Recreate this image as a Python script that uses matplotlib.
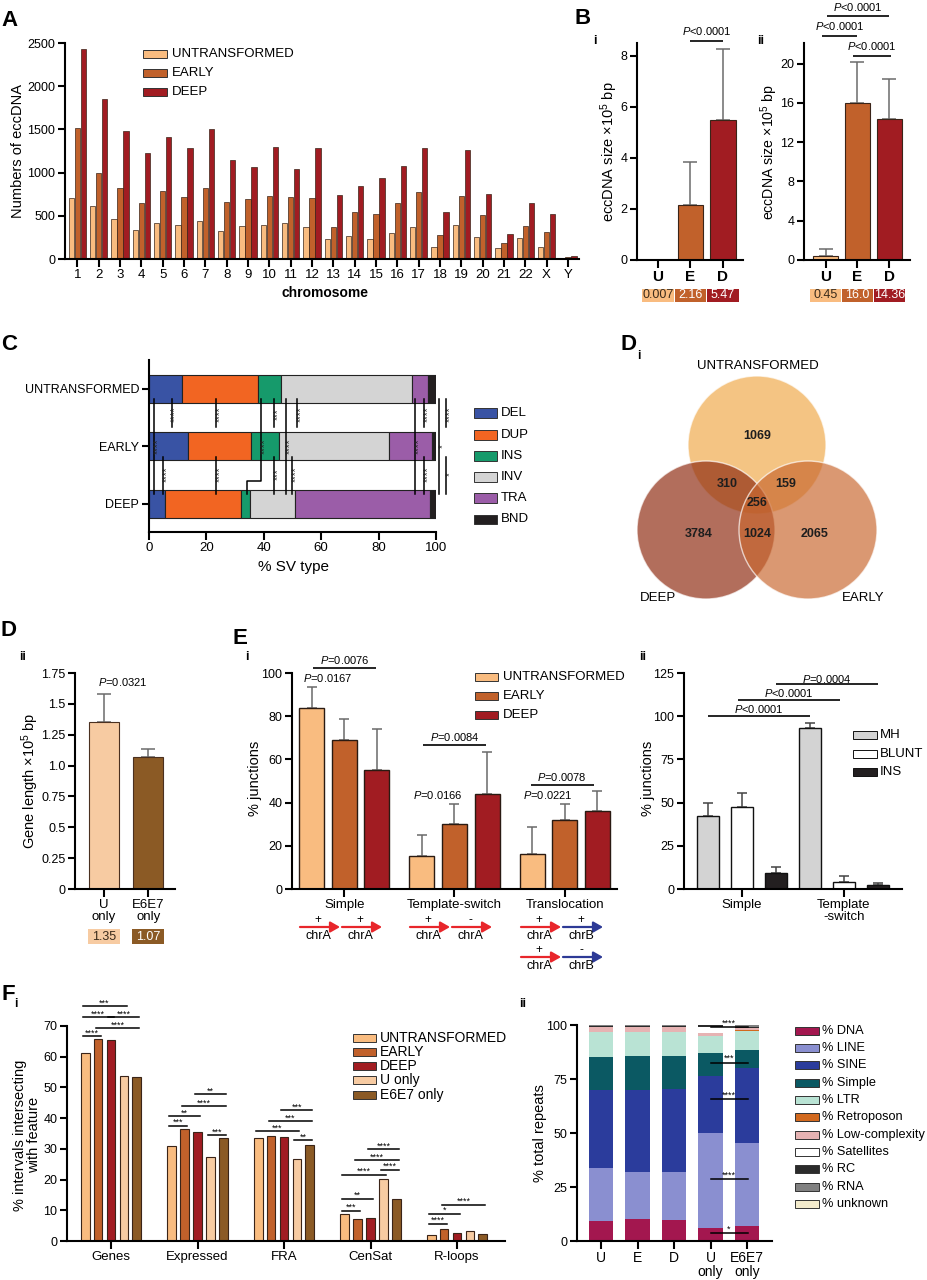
import numpy as np
import matplotlib
matplotlib.use('Agg')
import matplotlib.pyplot as plt
from matplotlib.patches import Rectangle, Circle, FancyArrowPatch
from matplotlib.transforms import blended_transform_factory

plt.rcParams['font.family'] = ['Liberation Sans', 'DejaVu Sans']
plt.rcParams['mathtext.fontset'] = 'custom'
plt.rcParams['mathtext.rm'] = 'Liberation Sans'
plt.rcParams['mathtext.it'] = 'Liberation Sans:italic'
plt.rcParams['mathtext.bf'] = 'Liberation Sans:bold'
plt.rcParams['axes.linewidth'] = 1.5
plt.rcParams['xtick.major.width'] = 1.5
plt.rcParams['ytick.major.width'] = 1.5
plt.rcParams['xtick.major.size'] = 5.5
plt.rcParams['ytick.major.size'] = 5
plt.rcParams['xtick.labelsize'] = 9
plt.rcParams['ytick.labelsize'] = 9
plt.rcParams['xtick.major.pad'] = 2
plt.rcParams['ytick.major.pad'] = 2

# ---------------- DATA ----------------
# Panel A
chromosomes = [str(i) for i in range(1, 23)] + ['X', 'Y']
a_untransformed = [710, 617, 463, 340, 417, 397, 444, 328, 378, 394, 417, 370,
                   235, 270, 231, 297, 370, 139, 390, 255, 123, 239, 139, 10]
a_early = [1516, 995, 826, 648, 791, 714, 826, 656, 694, 733, 721, 706,
           370, 544, 517, 652, 779, 274, 725, 513, 185, 386, 316, 27]
a_deep = [2434, 1856, 1481, 1223, 1416, 1285, 1508, 1142, 1061, 1292, 1038, 1281,
          745, 845, 937, 1080, 1285, 540, 1262, 752, 289, 644, 525, 39]
a_series = ['UNTRANSFORMED', 'EARLY', 'DEEP']

# Panel B
b_groups = ['U', 'E', 'D']
bi_mean = [0.007, 2.16, 5.47]
bi_err = [0.0, 1.66, 2.80]
bi_labels = ['0.007', '2.16', '5.47']
bii_mean = [0.45, 16.0, 14.36]
bii_err = [0.64, 4.2, 4.11]
bii_labels = ['0.45', '16.0', '14.36']

# Panel C
sv_samples = ['UNTRANSFORMED', 'EARLY', 'DEEP']
sv_types = ['DEL', 'DUP', 'INS', 'INV', 'TRA', 'BND']
sv_del = [11.4, 13.7, 5.6]
sv_dup = [26.5, 21.8, 26.6]
sv_ins = [8.1, 9.7, 3.1]
sv_inv = [45.7, 38.3, 15.4]
sv_tra = [5.6, 15.0, 47.2]
sv_bnd = [2.7, 1.5, 2.1]

# Panel Di (Venn)
venn_sets = ['UNTRANSFORMED', 'DEEP', 'EARLY']
venn_regions = ['U', 'UD', 'UE', 'UDE', 'D', 'DE', 'E']
venn_counts = [1069, 310, 159, 256, 3784, 1024, 2065]

# Panel Dii
dii_groups = ['U\nonly', 'E6E7\nonly']
dii_mean = [1.35, 1.07]
dii_err = [0.23, 0.065]
dii_labels = ['1.35', '1.07']

# Panel Ei
junction_types = ['Simple', 'Template-switch', 'Translocation']
ei_untransformed = [83.8, 15.5, 16.3]
ei_untransformed_err = [9.7, 9.4, 12.6]
ei_early = [69.2, 30.2, 32.0]
ei_early_err = [9.3, 9.0, 7.4]
ei_deep = [55.1, 44.2, 36.2]
ei_deep_err = [18.9, 19.0, 9.2]

# Panel Eii
eii_groups = ['Simple', 'Template\n-switch']
eii_series = ['MH', 'BLUNT', 'INS']
eii_mh = [42.5, 92.9]
eii_mh_err = [7.1, 3.4]
eii_blunt = [47.3, 4.2]
eii_blunt_err = [8.1, 3.1]
eii_ins = [9.2, 2.1]
eii_ins_err = [3.5, 1.6]

# Panel Fi
features = ['Genes', 'Expressed', 'FRA', 'CenSat', 'R-loops']
fi_series = ['UNTRANSFORMED', 'EARLY', 'DEEP', 'U only', 'E6E7 only']
fi_untransformed = [61.3, 31.0, 33.6, 8.9, 2.1]
fi_early = [65.7, 36.5, 34.2, 7.2, 4.0]
fi_deep = [65.5, 35.5, 33.9, 7.5, 2.6]
fi_uonly = [53.8, 27.5, 26.7, 20.3, 3.1]
fi_e6e7 = [53.4, 33.5, 31.4, 13.8, 2.4]

# Panel Fii
fii_samples = ['U', 'E', 'D', 'U\nonly', 'E6E7\nonly']
repeat_classes = ['% DNA', '% LINE', '% SINE', '% Simple', '% LTR', '% Retroposon',
                  '% Low-complexity', '% Satellites', '% RC', '% RNA', '% unknown']
rep_dna = [9.4, 10.0, 9.7, 6.0, 7.1]
rep_line = [24.2, 21.9, 22.2, 43.8, 38.1]
rep_sine = [36.3, 38.0, 38.3, 26.7, 35.0]
rep_simple = [15.4, 15.9, 15.6, 10.4, 8.2]
rep_ltr = [11.3, 10.8, 10.8, 8.0, 9.0]
rep_retroposon = [0.1, 0.1, 0.1, 0.2, 0.1]
rep_lowcomplex = [2.3, 2.2, 2.2, 1.0, 1.1]
rep_satellites = [0.2, 0.2, 0.2, 2.9, 0.2]
rep_rc = [0.5, 0.5, 0.5, 0.8, 0.5]
rep_rna = [0.2, 0.3, 0.3, 0.1, 0.6]
rep_unknown = [0.1, 0.1, 0.1, 0.1, 0.1]

# ---------------- STYLE ----------------
COL_U = '#f9bc80'
COL_E = '#c1612b'
COL_D = '#a11c22'
COL_UONLY = '#f7cba2'
COL_E6E7 = '#8b5a25'
EDGE = '#3a2418'
SV_COLORS = ['#3953a4', '#f26522', '#169a6b', '#d4d4d4', '#9b5da8', '#231f20']
REP_COLORS = ['#a3174f', '#8a8fd0', '#2b3c9c', '#0b5963', '#b9e3d4', '#d2691e',
              '#e6b3b3', '#ffffff', '#2b2b2b', '#808080', '#f3ebcc']

W, H = 928, 1280
fig = plt.figure(figsize=(W / 100, H / 100), dpi=100)


def add_ax(l, t, r, b):
    ax = fig.add_axes([l / W, 1 - b / H, (r - l) / W, (b - t) / H])
    ax.spines['top'].set_visible(False)
    ax.spines['right'].set_visible(False)
    ax.patch.set_alpha(0)
    return ax


def ftext(x, y, s, **kw):
    kw.setdefault('ha', 'center')
    kw.setdefault('va', 'center')
    return fig.text(x / W, 1 - y / H, s, **kw)


def frect(x0, y0, x1, y1, fc, ec='#333333', lw=0.7):
    fig.add_artist(Rectangle((x0 / W, 1 - y1 / H), (x1 - x0) / W, (y1 - y0) / H,
                             transform=fig.transFigure, facecolor=fc, edgecolor=ec, linewidth=lw))


def legend_manual(labels, colors, x0, x1, ys, xt, h, fs, ec='#333333'):
    for lab, c, y in zip(labels, colors, ys):
        frect(x0, y - h / 2, x1, y + h / 2, c, ec)
        ftext(xt, y, lab, ha='left', fontsize=fs)


def panel_label(x, y, s, sub=None, sx=0, sy=0, size=16):
    ftext(x, y, s, fontsize=size, fontweight='bold')
    if sub:
        ftext(x + sx, y + sy, sub, fontsize=8.5, fontweight='bold')


def bracket(ax, x0, x1, y, txt, ytxt, fs=8):
    ax.plot([x0, x1], [y, y], color='k', lw=1.2, clip_on=False, solid_capstyle='butt')
    ax.text((x0 + x1) / 2, ytxt, txt, ha='center', va='center', fontsize=fs, clip_on=False)


def value_boxes(ax, labels, colors, tcolors, y0, y1, fs=9):
    tr = blended_transform_factory(ax.transData, fig.transFigure)
    for i, (lab, c, tc) in enumerate(zip(labels, colors, tcolors)):
        ax.add_patch(Rectangle((i - 0.49, 1 - y1 / H), 0.98, (y1 - y0) / H, transform=tr,
                               facecolor=c, edgecolor='none', clip_on=False))
        ax.text(i, 1 - (y0 + y1) / 2 / H, lab, transform=tr, ha='center', va='center',
                fontsize=fs, color=tc, clip_on=False)


def upper_err(ax, x, m, e, color='#6b6b6b', cap=4):
    x = np.asarray(x, float); m = np.asarray(m, float); e = np.asarray(e, float)
    keep = e > 0
    ax.errorbar(x[keep], m[keep], yerr=[np.zeros(keep.sum()), e[keep]], fmt='none',
                ecolor=color, elinewidth=1.1, capsize=cap, capthick=1.1, zorder=1)


P = r'$P$'

# ---------------- Panel A ----------------
axA = add_ax(65, 43, 579, 259)
xa = np.arange(len(chromosomes))
for k, (vals, col) in enumerate(zip([a_untransformed, a_early, a_deep], [COL_U, COL_E, COL_D])):
    axA.bar(xa + (k - 1) * 0.285, vals, width=0.25, color=col, edgecolor=EDGE, linewidth=0.5)
axA.set_xlim(-0.58, 23.52)
axA.set_ylim(0, 2500)
axA.set_yticks(range(0, 2501, 500))
axA.set_xticks(xa)
axA.set_xticklabels(chromosomes, fontsize=9.5)
ftext(18, 151, 'Numbers of eccDNA', rotation=90, fontsize=10.5)
ftext(325, 293, 'chromosome', fontsize=10, fontweight='bold')
legend_manual(a_series, [COL_U, COL_E, COL_D], 143, 167, [54, 73, 92], 172, 7, 9.5)
panel_label(10, 20, 'A')

# ---------------- Panel B ----------------
xb = np.arange(3)
bcols = [COL_U, COL_E, COL_D]
axBi = add_ax(637, 43, 743, 260)
axBi.bar(xb, bi_mean, width=0.8, color=bcols, edgecolor=EDGE, linewidth=0.8, zorder=2)
upper_err(axBi, xb, bi_mean, bi_err, cap=5)
axBi.set_xlim(-0.65, 2.62)
axBi.set_ylim(0, 8.5)
axBi.set_yticks([0, 2, 4, 6, 8])
axBi.set_xticks(xb)
axBi.set_xticklabels(b_groups, fontsize=11, fontweight='bold')
bracket(axBi, 1.0, 2.0, 8.59, P + '<0.0001', 8.98)
value_boxes(axBi, bi_labels, bcols, ['#3a2a1a', 'white', 'white'], 289, 302)
ftext(609, 152, r'eccDNA size ×10$^5$ bp', rotation=90, fontsize=10.5)
ftext(595, 41, 'i', fontsize=9, fontweight='bold')

axBii = add_ax(804, 43, 910, 260)
axBii.bar(xb, bii_mean, width=0.8, color=bcols, edgecolor=EDGE, linewidth=0.8, zorder=2)
upper_err(axBii, xb, bii_mean, bii_err, cap=5)
axBii.set_xlim(-0.68, 2.65)
axBii.set_ylim(0, 22.1)
axBii.set_yticks([0, 4, 8, 12, 16, 20])
axBii.set_xticks(xb)
axBii.set_xticklabels(b_groups, fontsize=11, fontweight='bold')
bracket(axBii, -0.1, 1.0, 22.86, P + '<0.0001', 23.8)
bracket(axBii, 0.03, 1.99, 24.8, P + '<0.0001', 25.8)
bracket(axBii, 0.85, 2.05, 20.8, P + '<0.0001', 21.8)
value_boxes(axBii, bii_labels, bcols, ['#3a2a1a', 'white', 'white'], 289, 302)
ftext(769, 152, r'eccDNA size ×10$^5$ bp', rotation=90, fontsize=10.2)
ftext(761, 41, 'ii', fontsize=9, fontweight='bold')
panel_label(583, 18, 'B')

# ---------------- Panel C ----------------
axC = add_ax(149, 360, 436, 532)
yC = np.array([2, 1, 0])
left = np.zeros(3)
for name, vals, col in zip(sv_types, [sv_del, sv_dup, sv_ins, sv_inv, sv_tra, sv_bnd], SV_COLORS):
    axC.barh(yC, vals, left=left, height=0.49, color=col, edgecolor='#222222', linewidth=0.8)
    left += np.array(vals)
axC.set_xlim(0, 100)
axC.set_ylim(-0.49, 2.5)
axC.set_yticks(yC)
axC.set_yticklabels(sv_samples, fontsize=9)
axC.set_xticks(range(0, 101, 20))
axC.tick_params(axis='x', labelsize=9.5)
ftext(293, 567, '% SV type', fontsize=11)


def cvl(x, y0, y1):
    axC.plot([x, x], [y0, y1], color='k', lw=1.1, clip_on=False, zorder=5)


def cst(x, y, s):
    axC.text(x, y, s, rotation=90, ha='center', va='center', fontsize=7,
             color='#222222', clip_on=False, zorder=6)


UB, EUT, EDB, DT = 1.83, 1.33, 0.82, 0.17
for x, s in zip([7.9, 23.4, 43.7, 51.5, 95.8], ['****', '****', '***', '****', '****']):
    cvl(x, UB, EUT); cst(x + 1.3, 1.55, s)
for x, s in zip([5.0, 23.4, 43.7, 49.9, 95.8], ['****', '****', '***', '****', '****']):
    cvl(x, EDB, DT); cst(x + 1.3, 0.52, s)
for x in [1.7, 47.7, 92.8]:
    cvl(x, UB, DT)
axC.plot([39.0, 39.0, 34.3, 34.3], [UB, 0.39, 0.39, DT], color='k', lw=1.1, clip_on=False, zorder=5)
for x in [3.0, 40.3, 49.0, 94.1]:
    cst(x, 1.0, '****')
cvl(101.0, UB, DT); cst(102.4, 1.0, '*')
cvl(103.6, UB, EUT); cst(105.0, 1.55, '****')
cvl(103.6, EDB, DT); cst(105.0, 0.52, '*')
legend_manual(sv_types, SV_COLORS, 474, 497, [413, 435, 456, 477, 498, 519], 501, 9, 9.5)
panel_label(9, 344, 'C')

# ---------------- Panel Di (Venn) ----------------
axV = fig.add_axes([600 / W, 1 - 610 / H, 328 / W, 270 / H])
axV.set_xlim(600, 928)
axV.set_ylim(610, 340)
axV.axis('off')
R = 69
circ = {'U': (757, 445), 'D': (706, 530), 'E': (808, 530)}
vcols = {'U': '#efa848', 'D': '#8e2a0f', 'E': '#c96830'}
for key in ['U', 'D', 'E']:
    axV.add_patch(Circle(circ[key], R, facecolor=vcols[key], alpha=0.68, edgecolor='white', lw=1.0))
vpos = {'U': (757, 436), 'UD': (727, 484), 'UE': (786, 484), 'UDE': (757, 503),
        'D': (699, 534), 'DE': (757, 534), 'E': (815, 534)}
for reg, cnt in zip(venn_regions, venn_counts):
    axV.text(*vpos[reg], str(cnt), ha='center', va='center', fontsize=9, fontweight='bold', color='#1e1e1e')
axV.text(758, 366, venn_sets[0], ha='center', va='center', fontsize=9.5)
axV.text(658, 598, venn_sets[1], ha='center', va='center', fontsize=9.5)
axV.text(863, 598, venn_sets[2], ha='center', va='center', fontsize=9.5)
panel_label(629, 344, 'D', 'i', 10, 12)

# ---------------- Panel Dii ----------------
axDii = add_ax(75, 673, 175, 889)
xd = np.arange(2)
dcols = [COL_UONLY, COL_E6E7]
axDii.bar(xd, dii_mean, width=0.67, color=dcols, edgecolor='#4a3020', linewidth=0.8, zorder=2)
upper_err(axDii, xd, dii_mean, dii_err, cap=5)
axDii.set_xlim(-0.66, 1.61)
axDii.set_ylim(0, 1.75)
axDii.set_yticks([0, 0.25, 0.5, 0.75, 1.0, 1.25, 1.5, 1.75])
axDii.set_yticklabels(['0', '0.25', '0.5', '0.75', '1.0', '1.25', '1.5', '1.75'])
axDii.set_xticks(xd)
axDii.set_xticklabels(dii_groups, fontsize=9.5, linespacing=0.95)
axDii.text(0.43, 1.677, P + '=0.0321', ha='center', va='center', fontsize=8)
tr = blended_transform_factory(axDii.transData, fig.transFigure)
for i, (lab, c, tc) in enumerate(zip(dii_labels, dcols, ['#3a2a1a', 'white'])):
    axDii.add_patch(Rectangle((i - 0.36, 1 - 944 / H), 0.72, 15 / H, transform=tr,
                              facecolor=c, edgecolor='none', clip_on=False))
    axDii.text(i, 1 - 936.5 / H, lab, transform=tr, ha='center', va='center',
               fontsize=9, color=tc, clip_on=False)
ftext(30, 781, r'Gene length ×10$^5$ bp', rotation=90, fontsize=10.5)
panel_label(9, 631, 'D', 'ii', 14, 26)

# ---------------- Panel Ei ----------------
axEi = add_ax(292, 673, 617, 889)
xe = np.arange(3)
for k, (vals, errs, col) in enumerate(zip([ei_untransformed, ei_early, ei_deep],
                                          [ei_untransformed_err, ei_early_err, ei_deep_err],
                                          [COL_U, COL_E, COL_D])):
    xs = xe + (k - 1) * 0.296
    axEi.bar(xs, vals, width=0.227, color=col, edgecolor='#2a1a12', linewidth=1.0, zorder=2)
    upper_err(axEi, xs, vals, errs, color='#6a6a6a', cap=3.5)
axEi.set_xlim(-0.473, 2.473)
axEi.set_ylim(0, 100)
axEi.set_yticks(range(0, 101, 20))
axEi.set_xticks(xe)
axEi.set_xticklabels(junction_types, fontsize=9.5)
bracket(axEi, -0.28, 0.29, 102.5, P + '=0.0076', 106.2)
axEi.text(-0.145, 97.5, P + '=0.0167', ha='center', va='center', fontsize=8)
bracket(axEi, 0.71, 1.29, 66.5, P + '=0.0084', 70.2)
axEi.text(0.845, 43.4, P + '=0.0166', ha='center', va='center', fontsize=8)
bracket(axEi, 1.69, 2.26, 48.0, P + '=0.0078', 51.7)
axEi.text(1.845, 43.4, P + '=0.0221', ha='center', va='center', fontsize=8)
legend_manual(a_series, [COL_U, COL_E, COL_D], 475, 498, [677, 696, 715], 503, 8, 9.5)
ftext(255, 778, '% junctions', rotation=90, fontsize=10.5)
panel_label(240, 639, 'E')
ftext(247, 657, 'i', fontsize=9, fontweight='bold')

RED = '#e8262b'
BLUE = '#2d3a96'


def farrow(x0, x1, y, col):
    fig.add_artist(FancyArrowPatch((x0 / W, 1 - y / H), (x1 / W, 1 - y / H), transform=fig.transFigure,
                                   arrowstyle='-|>,head_length=0.7,head_width=0.4', mutation_scale=8,
                                   color=col, lw=1.6, shrinkA=0, shrinkB=0))


group_px = [344, 454, 565]
arrow_sets = [[('+', 'chrA', RED), ('+', 'chrA', RED)],
              [('+', 'chrA', RED), ('-', 'chrA', RED)],
              [('+', 'chrA', RED), ('+', 'chrB', BLUE)],
              [('+', 'chrA', RED), ('-', 'chrB', BLUE)]]
rows = [(0, 0), (1, 0), (2, 0), (2, 30)]
for (g, dy), aset in zip(rows, arrow_sets):
    c = group_px[g]
    for j, (sgn, lab, col) in enumerate(aset):
        x0 = c - 44 + j * 42
        farrow(x0, x0 + 40, 927 + dy, col)
        ftext(x0 + 18, 920 + dy, sgn, fontsize=8.5)
        ftext(x0 + 18, 936 + dy, lab, fontsize=9)

# ---------------- Panel Eii ----------------
axEii = add_ax(684, 673, 902, 889)
xe2 = np.arange(2)
ecols2 = ['#d3d3d3', 'white', '#231f20']
for k, (vals, errs, col) in enumerate(zip([eii_mh, eii_blunt, eii_ins],
                                          [eii_mh_err, eii_blunt_err, eii_ins_err], ecols2)):
    xs = xe2 + (k - 1) * 0.338
    axEii.bar(xs, vals, width=0.216, color=col, edgecolor='#111111', linewidth=1.0, zorder=2)
    upper_err(axEii, xs, vals, errs, color='#444444', cap=3.5)
axEii.set_xlim(-0.57, 1.57)
axEii.set_ylim(0, 125)
axEii.set_yticks(range(0, 126, 25))
axEii.set_xticks(xe2)
axEii.set_xticklabels(eii_groups, fontsize=9.5, linespacing=0.95)
bracket(axEii, -0.338, 0.662, 99.9, P + '<0.0001', 103.9)
bracket(axEii, -0.04, 0.96, 109.1, P + '<0.0001', 113.2)
bracket(axEii, 0.333, 1.333, 118.4, P + '=0.0004', 121.8)
legend_manual(eii_series, ecols2, 853, 877, [735, 754, 772], 880, 8, 9.5, ec='#111111')
ftext(648, 778, '% junctions', rotation=90, fontsize=10.5)
ftext(643, 657, 'ii', fontsize=9, fontweight='bold')

# ---------------- Panel Fi ----------------
axFi = add_ax(67, 1026, 505, 1241)
xf = np.arange(5)
fcols = [COL_U, COL_E, COL_D, COL_UONLY, COL_E6E7]
OFF = 0.149
for k, (vals, col) in enumerate(zip([fi_untransformed, fi_early, fi_deep, fi_uonly, fi_e6e7], fcols)):
    axFi.bar(xf + (k - 2) * OFF, vals, width=0.1, color=col, edgecolor='#3a2418', linewidth=0.8)
axFi.set_xlim(-0.509, 4.555)
axFi.set_ylim(0, 70)
axFi.set_yticks(range(0, 71, 10))
axFi.set_xticks(xf)
axFi.set_xticklabels(features, fontsize=9.5)
fi_sig = [(0, 0, 1, 66.6, '****'), (0, 0, 3, 76.4, '***'), (0, 0, 2, 72.8, '****'),
          (0, 2, 4, 72.8, '****'), (0, 1, 4, 69.2, '****'),
          (1, 0, 1, 37.4, '***'), (1, 0, 2, 40.6, '**'), (1, 1, 4, 43.9, '****'),
          (1, 2, 4, 47.8, '**'), (1, 3, 4, 34.4, '***'),
          (2, 0, 3, 35.7, '***'), (2, 1, 4, 39.0, '***'), (2, 2, 4, 42.6, '***'), (2, 3, 4, 32.8, '**'),
          (3, 0, 1, 9.75, '***'), (3, 0, 2, 13.65, '**'), (3, 0, 3, 21.45, '****'),
          (3, 3, 4, 23.1, '****'), (3, 1, 4, 26.3, '****'), (3, 2, 4, 29.9, '****'),
          (4, 0, 1, 5.5, '****'), (4, 0, 2, 8.8, '*'), (4, 1, 4, 11.7, '****')]
for g, i, j, y, s in fi_sig:
    x0 = g + (i - 2) * OFF - 0.03
    x1 = g + (j - 2) * OFF + 0.03
    axFi.plot([x0, x1], [y, y], color='k', lw=1.1, clip_on=False)
    axFi.text((x0 + x1) / 2, y + 0.3, s, ha='center', va='baseline', fontsize=6.5, clip_on=False)
legend_manual(fi_series, fcols, 353, 376, [1038, 1052, 1066, 1080, 1095], 380, 8, 10)
ftext(27, 1135, '% intervals intersecting\nwith feature', rotation=90, fontsize=10.5, linespacing=1.0)
panel_label(8, 995, 'F', 'i', 8, 9)

# ---------------- Panel Fii ----------------
axFii = add_ax(577, 1025, 772, 1241)
xr = np.arange(5)
bottom = np.zeros(5)
rep_series = [rep_dna, rep_line, rep_sine, rep_simple, rep_ltr, rep_retroposon,
              rep_lowcomplex, rep_satellites, rep_rc, rep_rna, rep_unknown]
for vals, col in zip(rep_series, REP_COLORS):
    axFii.bar(xr, vals, bottom=bottom, width=0.67, color=col, edgecolor='none')
    bottom += np.array(vals)
axFii.set_xlim(-0.66, 4.68)
axFii.set_ylim(0, 100)
axFii.set_yticks(range(0, 101, 25))
axFii.set_xticks(xr)
axFii.set_xticklabels(fii_samples, fontsize=10, linespacing=0.95)
for y, s in zip([3.5, 28.5, 65.6, 82.6, 98.9], ['*', '****', '****', '***', '****']):
    axFii.plot([3.0, 4.03], [y, y], color='k', lw=1.1, clip_on=False, zorder=5)
    axFii.text(3.5, y + 0.8, s, ha='center', va='baseline', fontsize=6.5, clip_on=False, zorder=6)
legend_manual(repeat_classes, REP_COLORS, 795, 819,
              [1031, 1048, 1065, 1083, 1100, 1117, 1135, 1152, 1169, 1187, 1204], 822, 8, 9.2)
ftext(540, 1133, '% total repeats', rotation=90, fontsize=10.5)
ftext(523, 1004, 'ii', fontsize=9, fontweight='bold')

fig.savefig('out.png', dpi=100)
